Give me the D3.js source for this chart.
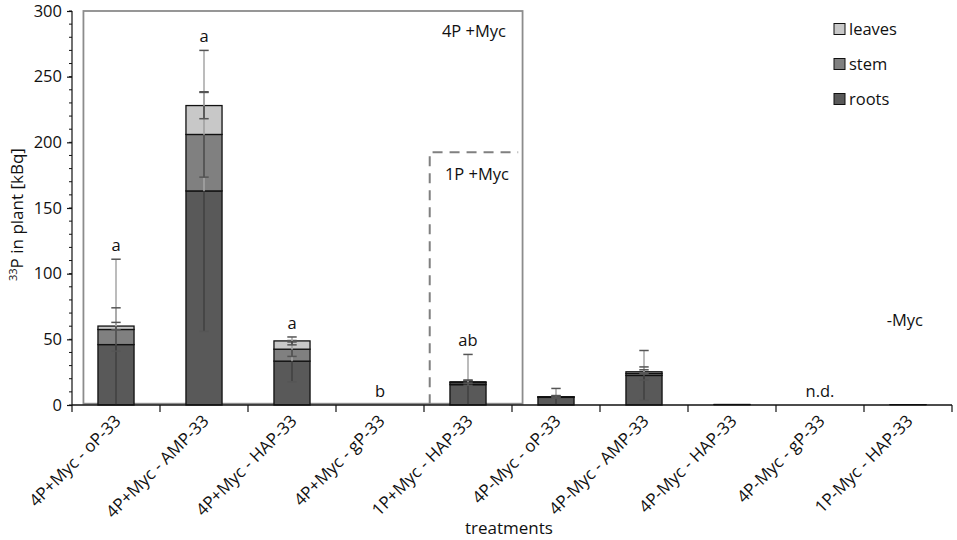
<!DOCTYPE html>
<html>
<head>
<meta charset="utf-8">
<script src="https://cdn.jsdelivr.net/npm/d3@7"></script>
<style>
  body { margin: 0; background: #fff; }
  svg { display: block; font-family: "Open Sans", sans-serif; }
</style>
</head>
<body>
<svg id="chart" width="957" height="540"></svg>
<script>
// values, kBq of 33P per plant part
var categories = ['4P+Myc - oP-33', '4P+Myc - AMP-33', '4P+Myc - HAP-33', '4P+Myc - gP-33',
    '1P+Myc - HAP-33', '4P-Myc - oP-33', '4P-Myc - AMP-33', '4P-Myc - HAP-33',
    '4P-Myc - gP-33', '1P-Myc - HAP-33'];
var parts = ['roots', 'stem', 'leaves'];
var roots = [46, 163, 33.4, 0, 15.5, 5.8, 22.5, 0.4, 0, 0.3];
var stem = [11.5, 43, 9.1, 0, 1.5, 0.4, 1.5, 0.1, 0, 0.1];
var leaves = [2.6, 22, 6.3, 0, 0.7, 0.1, 1.3, 0.05, 0, 0.05];
var rootsErr = [65, 107, 15.7, 0, 23, 6.8, 19, 0, 0, 0];
var stemErr = [16.5, 32.5, 5.5, 0, 2, 1, 5, 0, 0, 0];
var leavesErr = [2.8, 10, 3, 0, 1, 0.5, 1.5, 0, 0, 0];
var letters = ['a', 'a', 'a', 'b', 'ab', '', '', '', 'n.d.', ''];
var yTicks = [0, 50, 100, 150, 200, 250, 300];

var svg = d3.select('#chart');
var margin = {left: 72, right: 5, top: 11, bottom: 135};
var width = 957, height = 540;

var x = d3.scaleBand()
    .domain(categories)
    .range([margin.left, width - margin.right])
    .paddingInner(0.59)
    .paddingOuter(0.295);
var y = d3.scaleLinear()
    .domain([0, 300])
    .range([height - margin.bottom, margin.top]);

var colors = {roots: '#595959', stem: '#808080', leaves: '#c8c8c8'};
var errors = {roots: rootsErr, stem: stemErr, leaves: leavesErr};

var rows = categories.map(function(c, i) {
    return {cat: c, roots: roots[i], stem: stem[i], leaves: leaves[i]};
});
var stack = d3.stack().keys(parts)(rows);

// group boxes (4P +Myc solid, 1P +Myc dashed)
var step = x.step();
svg.append('rect')
    .attr('x', margin.left + 0.13 * step)
    .attr('y', y(300))
    .attr('width', 4.99 * step)
    .attr('height', y(1) - y(300))
    .attr('fill', 'none')
    .attr('stroke', '#8c8c8c')
    .attr('stroke-width', 1.8);
svg.append('path')
    .attr('d', 'M' + (margin.left + 4.065 * step) + ',' + y(0.5) +
        'V' + y(192.5) + 'H' + (margin.left + 5.07 * step))
    .attr('fill', 'none')
    .attr('stroke', '#808080')
    .attr('stroke-width', 2)
    .attr('stroke-dasharray', '10,7');

// bars
var layers = svg.append('g').attr('class', 'bars')
    .selectAll('g')
    .data(stack)
    .enter().append('g')
    .attr('fill', function(d) { return colors[d.key]; });
layers.selectAll('rect')
    .data(function(d) { return d; })
    .enter().append('rect')
    .attr('x', function(d) { return x(d.data.cat); })
    .attr('y', function(d) { return y(d[1]); })
    .attr('width', x.bandwidth())
    .attr('height', function(d) { return y(d[0]) - y(d[1]); })
    .attr('stroke', function(d) { return d[1] - d[0] > 0 ? '#111' : 'none'; })
    .attr('stroke-width', function(d) { return d[1] > 1 ? 1.3 : 0.8; });

// error bars, one per stacked part
var errData = [];
stack.forEach(function(layer) {
    layer.forEach(function(d, i) {
        var e = errors[layer.key][i];
        if (e > 0) {
            errData.push({cat: d.data.cat, top: d[1], err: e});
        }
    });
});
var cap = 4.7;
var eg = svg.append('g').attr('class', 'errors');
errData.forEach(function(d) {
    var cx = x(d.cat) + x.bandwidth() / 2;
    var lo = Math.max(0, d.top - d.err), hi = d.top + d.err;
    eg.append('line')
        .attr('x1', cx).attr('x2', cx)
        .attr('y1', y(d.top)).attr('y2', y(hi))
        .attr('stroke', '#a6a6a6').attr('stroke-width', 1.5);
    eg.append('line')
        .attr('x1', cx).attr('x2', cx)
        .attr('y1', y(d.top)).attr('y2', y(lo))
        .attr('stroke', '#404040').attr('stroke-width', 1.5);
    eg.append('line')
        .attr('x1', cx - cap).attr('x2', cx + cap)
        .attr('y1', y(hi)).attr('y2', y(hi))
        .attr('stroke', '#555').attr('stroke-width', 1.5);
    if (lo > 0) {
        eg.append('line')
            .attr('x1', cx - cap).attr('x2', cx + cap)
            .attr('y1', y(lo)).attr('y2', y(lo))
            .attr('stroke', '#555').attr('stroke-width', 1.5);
    }
});

// significance letters above the highest error bar
svg.append('g').selectAll('text')
    .data(categories)
    .enter().append('text')
    .attr('x', function(c) { return x(c) + x.bandwidth() / 2; })
    .attr('y', function(c, i) {
        var tops = [roots[i] + rootsErr[i], roots[i] + stem[i] + stemErr[i],
            roots[i] + stem[i] + leaves[i] + leavesErr[i]];
        return y(d3.max(tops)) - 8;
    })
    .attr('text-anchor', 'middle')
    .attr('font-size', 16.5)
    .attr('fill', '#111')
    .text(function(c, i) { return letters[i]; });

// axes
var yAxis = svg.append('g')
    .attr('transform', 'translate(' + margin.left + ',0)')
    .call(d3.axisLeft(y).tickValues(yTicks).tickSize(5).tickPadding(5));
yAxis.append('g')
    .selectAll('line')
    .data(d3.range(0, 301, 10))
    .enter().append('line')
    .attr('x1', -3).attr('x2', 0)
    .attr('y1', function(d) { return y(d); })
    .attr('y2', function(d) { return y(d); })
    .attr('stroke', '#111');
yAxis.select('.domain').attr('d', 'M0,' + y(300) + 'V' + y(0));

var xAxis = svg.append('g')
    .attr('transform', 'translate(0,' + y(0) + ')');
xAxis.append('line')
    .attr('x1', margin.left).attr('x2', width - margin.right)
    .attr('stroke', '#111').attr('stroke-width', 1.5);
xAxis.selectAll('.tick-line')
    .data(d3.range(0, categories.length + 1))
    .enter().append('line')
    .attr('x1', function(i) { return margin.left + i * step; })
    .attr('x2', function(i) { return margin.left + i * step; })
    .attr('y1', 0).attr('y2', 7)
    .attr('stroke', '#111').attr('stroke-width', 1.2);
xAxis.selectAll('text')
    .data(categories)
    .enter().append('text')
    .attr('transform', function(c) {
        return 'translate(' + (x(c) + x.bandwidth() / 2 + 6) + ',17) rotate(-45)';
    })
    .attr('text-anchor', 'end')
    .attr('font-size', 17)
    .attr('fill', '#111')
    .text(function(c) { return c; });

svg.selectAll('.tick text').attr('font-size', 16.5).attr('fill', '#111')
    .attr('font-family', '"Open Sans", sans-serif');
svg.selectAll('.tick line, .domain').attr('stroke', '#111').attr('stroke-width', 1.2);

// axis titles
svg.append('text')
    .attr('x', 509).attr('y', 534)
    .attr('text-anchor', 'middle')
    .attr('font-size', 17)
    .attr('fill', '#111')
    .text('treatments');
var yt = svg.append('text')
    .attr('transform', 'translate(23,' + y(145) + ') rotate(-90)')
    .attr('text-anchor', 'middle')
    .attr('font-size', 17)
    .attr('fill', '#111');
yt.append('tspan').attr('font-size', 11).attr('dy', -6).text('33');
yt.append('tspan').attr('dy', 6).text('P in plant [kBq]');

// group labels
var groupLabels = [
    {text: '4P +Myc', x: 506, y: 37},
    {text: '1P +Myc', x: 509, y: 180},
    {text: '-Myc', x: 923, y: 326}
];
svg.append('g').selectAll('text')
    .data(groupLabels)
    .enter().append('text')
    .attr('x', function(d) { return d.x; })
    .attr('y', function(d) { return d.y; })
    .attr('text-anchor', 'end')
    .attr('font-size', 16.5)
    .attr('fill', '#111')
    .text(function(d) { return d.text; });

// legend, top to bottom: leaves, stem, roots
var legend = svg.append('g').attr('transform', 'translate(834,0)')
    .selectAll('g')
    .data(parts.slice().reverse())
    .enter().append('g')
    .attr('transform', function(d, i) { return 'translate(0,' + (29 + i * 35) + ')'; });
legend.append('rect')
    .attr('x', 0).attr('y', -5.5)
    .attr('width', 11).attr('height', 11)
    .attr('fill', function(d) { return colors[d]; })
    .attr('stroke', '#111').attr('stroke-width', 1);
legend.append('text')
    .attr('x', 15).attr('dy', '0.35em')
    .attr('font-size', 16.5)
    .attr('fill', '#111')
    .text(function(d) { return d; });
</script>
</body>
</html>
